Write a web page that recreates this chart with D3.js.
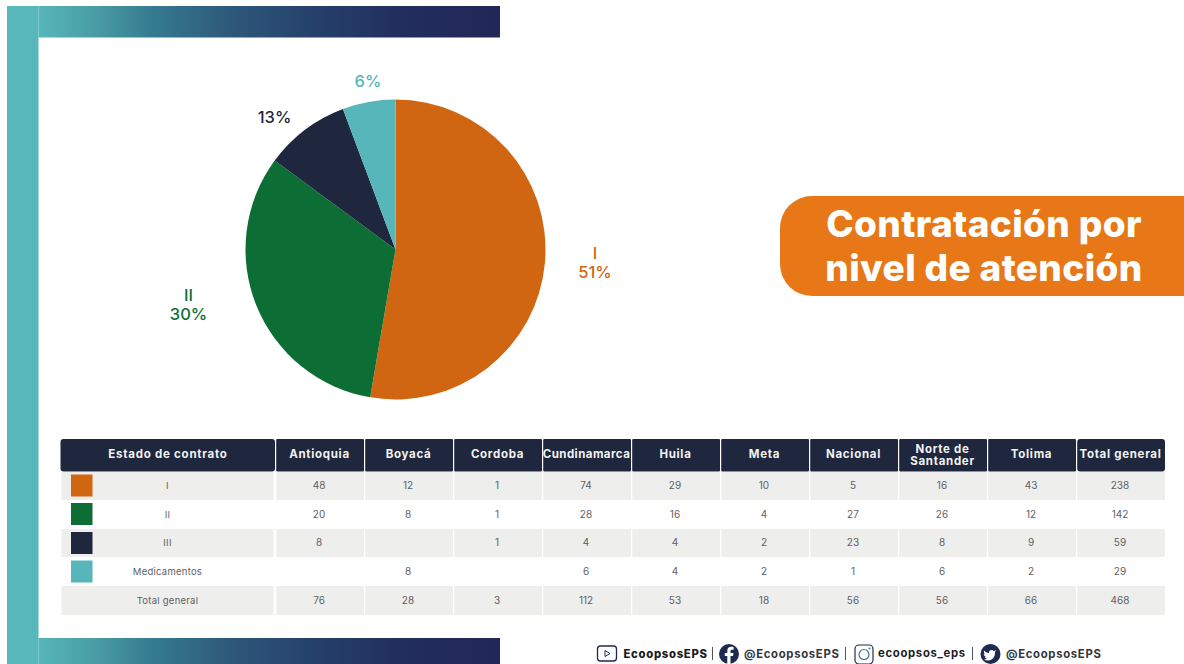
<!DOCTYPE html>
<html><head><meta charset="utf-8">
<script src="https://cdn.jsdelivr.net/npm/d3@7/dist/d3.min.js"></script>
<style>html,body{margin:0;padding:0;background:#fff;overflow:hidden}svg{display:block}text{font-family:Inter,"Open Sans",sans-serif}</style>
</head><body><svg id="c" width="1184" height="664"></svg>
<script>
// Data
const sliceNames = ["I","II","III","Medicamentos"];
const sliceShares = [52.7,32.4,9.2,5.7];           // angular shares as drawn
const sliceLabels = ["51%","30%","13%","6%"];
const sliceColors = ["#d06512","#0c6e35","#1e273d","#56b6ba"];
const columns = ["Antioquia","Boyacá","Cordoba","Cundinamarca","Huila","Meta","Nacional","Norte de|Santander","Tolima","Total general"];
const rowNames = ["I","II","III","Medicamentos","Total general"];
const rowI    = [48,12,1,74,29,10,5,16,43,238];
const rowII   = [20,8,1,28,16,4,27,26,12,142];
const rowIII  = [8,"",1,4,4,2,23,8,9,59];
const rowMed  = ["",8,"",6,4,2,1,6,2,29];
const rowTot  = [76,28,3,112,53,18,56,56,66,468];
const rows = [rowI,rowII,rowIII,rowMed,rowTot];
const footer = ["EcoopsosEPS","@EcoopsosEPS","ecoopsos_eps","@EcoopsosEPS"];
const titleLines = ["Contratación por","nivel de atención"];

const svg = d3.select("#c");
const defs = svg.append("defs");
const g = defs.append("linearGradient").attr("id","band");
[[0,"#56b6ba"],[.12,"#4a9da6"],[.25,"#357a90"],[.42,"#2d5878"],[.6,"#25406a"],[.8,"#222d5c"],[1,"#212858"]]
 .forEach(s=>g.append("stop").attr("offset",s[0]).attr("stop-color",s[1]));

// Frame
svg.append("rect").attr("x",7).attr("y",6).attr("width",31.5).attr("height",658).attr("fill","#58b7ba");
svg.append("rect").attr("x",38.5).attr("y",6).attr("width",461.5).attr("height",31.5).attr("fill","url(#band)");
svg.append("rect").attr("x",38.5).attr("y",638).attr("width",461.5).attr("height",26).attr("fill","url(#band)");

// Pie
const cx=395.5, cy=249.5, R=150;
const pie = d3.pie().sort(null)(sliceShares);
const arc = d3.arc().innerRadius(0).outerRadius(R);
const pg = svg.append("g").attr("transform",`translate(${cx},${cy})`);
pg.selectAll("path").data(pie).join("path").attr("d",arc).attr("fill",(d,i)=>sliceColors[i]);

const lab = svg.append("g").attr("font-size",16.5).attr("font-weight",500).attr("text-anchor","middle");
[[595,259,0,true],[188.5,300.5,1,true],[274.5,123,2,false],[368,87,3,false]].forEach(([x,y,i,named])=>{
  const col = sliceColors[i];
  if(named){
    lab.append("text").attr("x",x).attr("y",y).attr("fill",col).text(sliceNames[i]);
    lab.append("text").attr("x",x).attr("y",y+19).attr("fill",col).text(sliceLabels[i]);
  } else lab.append("text").attr("x",x).attr("y",y).attr("fill",col).text(sliceLabels[i]);
});

// Title
svg.append("path").attr("fill","#e87817")
 .attr("d","M1184,196 H812 A32,32 0 0 0 780,228 V264 A32,32 0 0 0 812,296 H1184 Z");
svg.append("g").attr("fill","#fff").attr("font-size",37).attr("font-weight",800).attr("letter-spacing",.37).attr("text-anchor","middle")
 .selectAll("text").data(titleLines).join("text")
 .attr("x",984).attr("y",(d,i)=>237+i*44).text(d=>d);

// Table
const x = d3.scaleBand().domain(d3.range(columns.length)).range([275.5,1165.5]);
const yTop=[472,501,529,558,586], rh=[28,27,28,27,29];
const t = svg.append("g");
t.append("rect").attr("x",60.5).attr("y",439).attr("width",214.5).attr("height",32.5).attr("rx",3).attr("fill","#1e273d");
t.append("text").attr("x",168).attr("y",458).attr("text-anchor","middle").attr("fill","#f2f2f2").attr("font-size",11.5).attr("font-weight",700).attr("letter-spacing",.75).text("Estado de contrato");
columns.forEach((c,i)=>{
  t.append("rect").attr("x",x(i)+.7).attr("y",439).attr("width",x.bandwidth()-1.2).attr("height",32.5).attr("rx",i==9?3:1).attr("fill","#1e273d");
  const parts=c.split("|");
  parts.forEach((p,k)=>t.append("text").attr("x",x(i)+x.bandwidth()/2-.5).attr("y",parts.length>1?452.5+k*12:458)
    .attr("text-anchor","middle").attr("fill","#f2f2f2").attr("font-size",parts.length>1?11.5:11.5).attr("font-weight",700)
    .attr("letter-spacing",c=="Cundinamarca"?.45:.7).text(p));
});
rows.forEach((r,ri)=>{
  const shaded = ri%2==0;
  const ty = yTop[ri]+rh[ri]/2+3;
  if(shaded) t.append("rect").attr("x",61.5).attr("y",yTop[ri]).attr("width",212).attr("height",rh[ri]).attr("fill","#eeeeed");
  t.append("text").attr("x",167.5).attr("y",ty).attr("text-anchor","middle").attr("fill","#5f6064").attr("font-size",9.5).attr("letter-spacing",.25).text(rowNames[ri]);
  r.forEach((v,i)=>{
    if(shaded) t.append("rect").attr("x",x(i)+.8).attr("y",yTop[ri]).attr("width",x.bandwidth()-1.4).attr("height",rh[ri]).attr("fill","#eeeeed");
    t.append("text").attr("x",x(i)+x.bandwidth()/2-1).attr("y",ty).attr("text-anchor","middle").attr("fill","#5f6064").attr("font-size",10).text(v);
  });
});
// Legend swatches
const swY=[474.5,503,532,560.5];
sliceColors.forEach((c,i)=>t.append("rect").attr("x",71).attr("y",swY[i]).attr("width",21.5).attr("height",22).attr("fill",c));

// Footer
const f = svg.append("g");
const navy="#1f2a52";
// video icon
f.append("rect").attr("x",597.5).attr("y",646).attr("width",19).attr("height",15).attr("rx",3).attr("fill","none").attr("stroke",navy).attr("stroke-width",1.3);
f.append("path").attr("d",d3.line()([[605,650.5],[610,653.5],[605,656.5]])+"Z").attr("fill","none").attr("stroke",navy).attr("stroke-width",1);
const ft = (xp,s,w,col)=>f.append("text").attr("x",xp).attr("y",658).attr("font-size",11.3).attr("font-weight",w).attr("letter-spacing",.7).attr("fill",col).text(s);
ft(623.5,footer[0],800,"#1c1c24");
ft(744,footer[1],700,"#33353d");
ft(878,footer[2],700,"#1c1c24").attr("y",656.5);
ft(1006,footer[3],700,"#33353d");
[712.5,845.5,972.5].forEach(xp=>f.append("line").attr("x1",xp).attr("x2",xp).attr("y1",647).attr("y2",660).attr("stroke","#555").attr("stroke-width",1));
// facebook
f.append("circle").attr("cx",729).attr("cy",654).attr("r",10).attr("fill",navy);
f.append("path").attr("fill","#fff").attr("d","M730.5,664 V656 H733 L733.5,653 H730.5 V651.2 C730.5,650.2 731,649.7 732,649.7 H733.6 V647 C733,646.9 732,646.8 731.2,646.8 C728.8,646.8 727.3,648.2 727.3,650.8 V653 H724.8 V656 H727.3 V664 Z");
// instagram
f.append("rect").attr("x",855).attr("y",645).attr("width",18).attr("height",19).attr("rx",4).attr("fill","none").attr("stroke",navy).attr("stroke-width",1.2);
f.append("circle").attr("cx",864).attr("cy",654.5).attr("r",5).attr("fill","none").attr("stroke","#3b7f96").attr("stroke-width",1.2);
f.append("circle").attr("cx",869.5).attr("cy",648.5).attr("r",1).attr("fill","#3b7f96");
// twitter
f.append("circle").attr("cx",990.5).attr("cy",654).attr("r",10).attr("fill",navy);
f.append("path").attr("fill","#fff").attr("d","M996,650 C995,650.6 994.4,650.8 993.8,650.9 C992,649 988.6,650.2 989,653 C986.8,653 985.2,651.8 984.2,650.6 C983.4,652 984,653.6 985,654.4 C984.5,654.4 984,654.2 983.7,654 C983.7,655.6 985,656.6 986,656.9 L984.8,657 C985.2,658 986.2,658.5 987.2,658.6 C986.2,659.3 985,659.6 983.8,659.5 C989.5,662.5 995.5,658.5 995,652 C995.5,651.6 995.8,651 996,650 Z");
</script></body></html>
